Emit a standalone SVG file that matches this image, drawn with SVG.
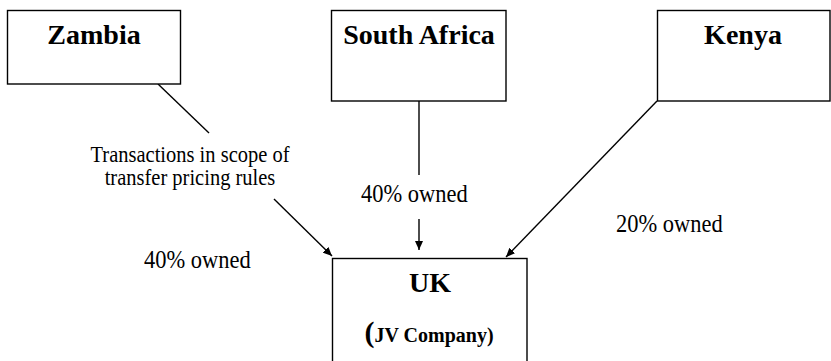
<svg xmlns="http://www.w3.org/2000/svg" width="831" height="361" viewBox="0 0 831 361">
<style>
.box{fill:#fff;stroke:#000;stroke-width:1.4}
.title{font-family:"Liberation Serif","Times New Roman",serif;font-weight:bold;font-size:28px;text-anchor:middle;fill:#000}
.lbl{font-family:"Liberation Serif","Times New Roman",serif;font-size:22.5px;fill:#000}
.note{font-family:"Liberation Serif","Times New Roman",serif;font-size:20.5px;text-anchor:middle;fill:#000}
.ln{stroke:#000;stroke-width:1.4;fill:none}
</style>
<defs>
<marker id="ah" markerUnits="userSpaceOnUse" markerWidth="10" markerHeight="8" refX="9" refY="4" orient="auto">
<path d="M0,0 L9,4 L0,8 Z" fill="#000"/>
</marker>
</defs>
<rect width="831" height="361" fill="#fff"/>
<g id="connectors">
<line class="ln" x1="158" y1="84" x2="209" y2="133"/>
<line class="ln" x1="274" y1="199" x2="332" y2="256" marker-end="url(#ah)"/>
<line class="ln" x1="419" y1="101" x2="419" y2="175"/>
<line class="ln" x1="419" y1="219" x2="419" y2="250" marker-end="url(#ah)"/>
<line class="ln" x1="657" y1="101" x2="506" y2="257" marker-end="url(#ah)"/>
</g>
<g id="zambia">
<rect class="box" x="7.5" y="10.5" width="173" height="73.5"/>
<text class="title" x="94" y="44">Zambia</text>
</g>
<g id="south-africa">
<rect class="box" x="331.5" y="10.5" width="174.5" height="90.5"/>
<text class="title" x="419" y="44">South Africa</text>
</g>
<g id="kenya">
<rect class="box" x="657.5" y="10.5" width="172.5" height="90.5"/>
<text class="title" x="743" y="44">Kenya</text>
</g>
<g id="uk">
<rect class="box" x="332.5" y="258.5" width="194.5" height="110"/>
<text class="title" x="430" y="292">UK</text>
<text class="title" x="429" y="342"><tspan font-size="30px">(</tspan><tspan font-size="20px">JV Company)</tspan></text>
</g>
<g id="labels">
<text class="note" transform="translate(190 162) scale(1 1.12)">Transactions in scope of</text>
<text class="note" transform="translate(190 185) scale(1 1.12)">transfer pricing rules</text>
<text class="lbl" transform="translate(361 202) scale(1 1.12)">40% owned</text>
<text class="lbl" transform="translate(144 268) scale(1 1.12)">40% owned</text>
<text class="lbl" transform="translate(616 232) scale(1 1.12)">20% owned</text>
</g>
</svg>
